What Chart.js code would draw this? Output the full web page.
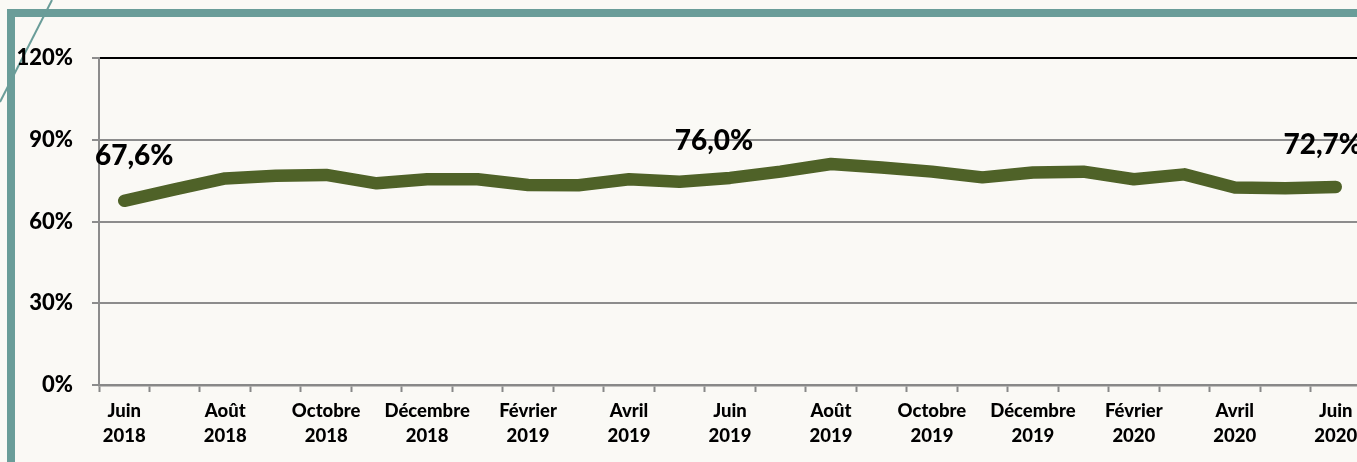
<!DOCTYPE html>
<html>
<head>
<meta charset="utf-8">
<script src="https://cdn.jsdelivr.net/npm/chart.js@4/dist/chart.umd.min.js"></script>
<style>
    html, body { margin: 0; padding: 0; overflow: hidden; background: #faf9f5; }
    #wrap { width: 1370px; height: 462px; position: relative; }
</style>
</head>
<body>
<div id="wrap"><canvas id="rateChart"></canvas></div>
<script>
// ------------------------------
// DATA
// ------------------------------
const months = [
    "Juin 2018", "Juillet 2018", "Août 2018", "Septembre 2018", "Octobre 2018",
    "Novembre 2018", "Décembre 2018", "Janvier 2019", "Février 2019", "Mars 2019",
    "Avril 2019", "Mai 2019", "Juin 2019", "Juillet 2019", "Août 2019",
    "Septembre 2019", "Octobre 2019", "Novembre 2019", "Décembre 2019", "Janvier 2020",
    "Février 2020", "Mars 2020", "Avril 2020", "Mai 2020", "Juin 2020"
];

const rates = [
    67.6, 71.8, 75.8, 76.8, 77.1,
    74.0, 75.5, 75.5, 73.4, 73.3,
    75.5, 74.6, 76.0, 78.3, 81.1,
    79.8, 78.3, 76.2, 78.0, 78.3,
    75.5, 77.3, 72.5, 72.2, 72.7
];

const yTicks = [0, 30, 60, 90, 120];

// points that carry a value label
const labelledPoints = [0, 12, 24];

const fr = v => v.toFixed(1).replace(".", ",") + "%";

// ---------------- frame (teal border + diagonal stroke) ----------------
const framePlugin = {
    id: "frame",
    beforeDraw(chart) {
        const c = chart.ctx;
        c.save();
        c.fillStyle = "#6a9d99";
        c.fillRect(7, 9, chart.width, 8);
        c.fillRect(7, 9, 8, chart.height);
        c.strokeStyle = "#6a9d99";
        c.lineWidth = 2;
        c.beginPath();
        c.moveTo(52, 0);
        c.lineTo(0, 102);
        c.stroke();
        c.restore();
    }
};

// ---------------- value labels ----------------
const valueLabels = {
    id: "valueLabels",
    afterDatasetsDraw(chart) {
        const c = chart.ctx;
        const pts = chart.getDatasetMeta(0).data;
        const shift = { 0: [10, -45], 12: [-16, -37], 24: [-13, -42] };
        c.save();
        c.font = "900 28px Lato";
        c.fillStyle = "#000";
        c.textAlign = "center";
        c.textBaseline = "middle";
        labelledPoints.forEach(i => {
            const [dx, dy] = shift[i];
            c.fillText(fr(rates[i]), pts[i].x + dx, pts[i].y + dy);
        });
        c.restore();
    }
};

new Chart(document.getElementById("rateChart"), {
    type: "line",
    data: {
        labels: months.map(m => m.split(" ")),
        datasets: [{
            data: rates,
            borderColor: "#4f6228",
            borderWidth: 12.5,
            borderCapStyle: "round",
            borderJoinStyle: "round",
            pointRadius: 0,
            tension: 0,
            fill: false
        }]
    },
    options: {
        responsive: true,
        maintainAspectRatio: false,
        animation: false,
        layout: { padding: { top: 58, right: 9, left: 0, bottom: 0 } },
        plugins: {
            legend: { display: false },
            tooltip: { enabled: false }
        },
        scales: {
            x: {
                offset: true,
                afterFit: s => { s.height = 77; },
                grid: {
                    offset: true,
                    drawOnChartArea: false,
                    drawTicks: true,
                    tickLength: 7,
                    tickColor: "#888",
                    tickWidth: 2
                },
                border: { color: "#888", width: 2.5 },
                ticks: {
                    autoSkip: false,
                    maxRotation: 0,
                    padding: 7,
                    color: "#000",
                    font: { family: "Lato", weight: "900", size: 18.5, lineHeight: 1.32 },
                    callback: function (v, i) { return i % 2 === 0 ? this.getLabelForValue(v) : ""; }
                }
            },
            y: {
                min: 0,
                max: 120,
                afterFit: s => { s.width = 99; },
                afterBuildTicks: s => { s.ticks = yTicks.map(v => ({ value: v })); },
                grid: {
                    color: ctx => ctx.tick && ctx.tick.value === 120 ? "#000" : "#8c8c8c",
                    lineWidth: 2,
                    tickLength: 7,
                    tickColor: "#8c8c8c",
                    tickWidth: 2
                },
                border: { color: "#8c8c8c", width: 2 },
                ticks: {
                    padding: 19,
                    color: "#000",
                    font: { family: "Lato", weight: "900", size: 22 },
                    callback: v => v + "%"
                }
            }
        }
    },
    plugins: [framePlugin, valueLabels]
});
</script>
</body>
</html>
